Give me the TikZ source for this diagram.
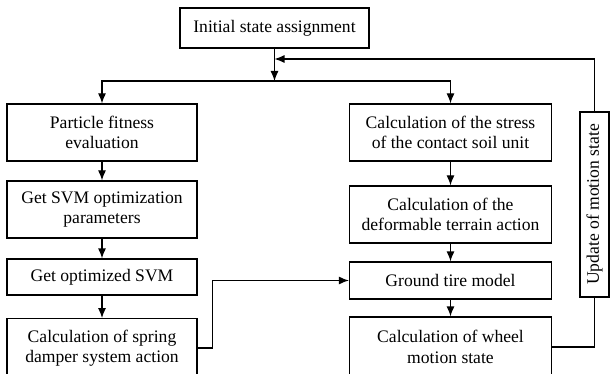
\documentclass[tikz,border=0pt]{standalone}
\usepackage{fontspec}
\setmainfont{Liberation Serif}
\usepackage{tikz}
\usetikzlibrary{arrows.meta}
\tikzset{blk/.style={draw, line width=0.9pt, align=center, inner sep=1pt}}

\begin{document}
\begin{tikzpicture}[x=0.75pt, y=-0.75pt, line width=0.9pt,
    font=\fontsize{13.2}{15.2}\selectfont, >={Latex[length=7.5pt,width=6pt]}]
  \useasboundingbox (0,0) rectangle (610,374);
  % Nodes
  \node[blk, minimum width=141.75pt, minimum height=30pt] (init) at (274.5,28)
    {Initial state assignment};

  \node[blk, minimum width=142.5pt, minimum height=42.75pt] (fit) at (102,132.5)
    {Particle fitness\\evaluation};
  \node[blk, minimum width=142.5pt, minimum height=42.75pt] (svmpar) at (102,209.5)
    {Get SVM optimization\\parameters};
  \node[blk, minimum width=142.5pt, minimum height=27pt] (svmopt) at (102,277)
    {Get optimized SVM};
  \node[blk, minimum width=142.5pt, minimum height=44pt] (spring) at (102,348)
    {Calculation of spring\\damper system action};

  \node[blk, minimum width=151.5pt, minimum height=42.75pt] (stress) at (450.5,132.5)
    {Calculation of the stress\\of the contact soil unit};
  \node[blk, minimum width=151.5pt, minimum height=42.75pt] (terrain) at (450.5,214.5)
    {Calculation of the\\deformable terrain action};
  \node[blk, minimum width=151.5pt, minimum height=27.75pt] (tire) at (450.5,280.5)
    {Ground tire model};
  \node[blk, minimum width=151.5pt, minimum height=45pt] (wheel) at (450.5,347)
    {Calculation of wheel\\motion state};

  \node[blk, rotate=90, minimum width=138.75pt, minimum height=21.75pt] (update) at (594.5,204.5)
    {Update of motion state};

  \coordinate (split) at (274.5,81);
  \coordinate (merge) at (274.5,59);

  % Main flow
  \draw[->] (init) -- (split);
  \draw[->] (split) -| (fit);
  \draw[->] (split) -| (stress);
  \draw[->] (fit) -- (svmpar);
  \draw[->] (svmpar) -- (svmopt);
  \draw[->] (svmopt) -- (spring);
  \draw[->] (stress) -- (terrain);
  \draw[->] (terrain) -- (tire);
  \draw[->] (tire) -- (wheel);

  % Coupling and feedback
  \draw[->] (spring.east) -- ++(15,0) |- (tire.west);
  \draw (wheel.east) -| (update.west);
  \draw[->] (update.east) |- (merge);
\end{tikzpicture}
\end{document}
